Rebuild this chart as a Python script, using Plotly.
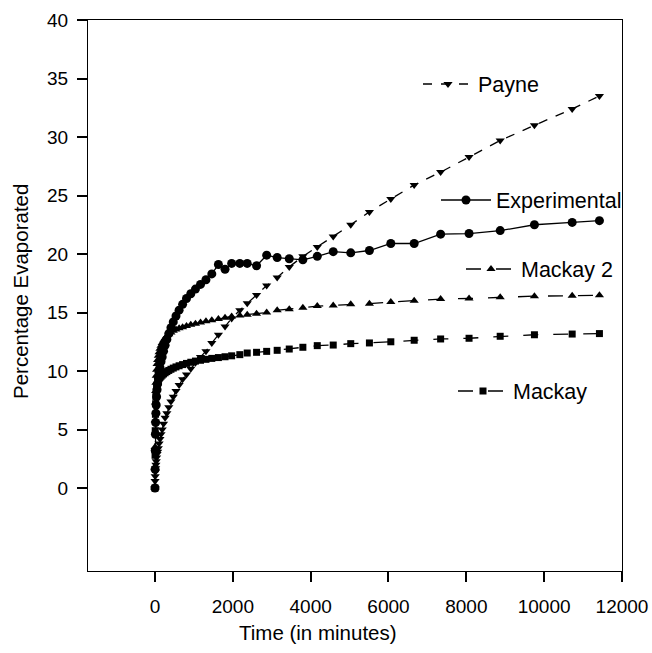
import plotly.graph_objects as go

# time grid (minutes), shared by all series
time_min = [0, 2, 6, 11, 17, 24, 32, 42, 54, 68, 85, 105, 128, 155, 185, 220, 260, 305, 355, 410,
            470, 540, 620, 710, 810, 920, 1040, 1170, 1310, 1460, 1630, 1800, 1970, 2180, 2370,
            2610, 2870, 3140, 3450, 3800, 4170, 4580, 5030, 5510, 6060, 6660, 7340, 8070, 8870,
            9750, 10720, 11420]

experimental = [0, 1.6, 3.2, 4.6, 5.6, 6.4, 7.1, 7.8, 8.4, 8.9, 9.4, 9.9, 10.3, 10.8, 11.2, 11.7,
                12.2, 12.7, 13.2, 13.7, 14.2, 14.7, 15.2, 15.7, 16.2, 16.6, 17.0, 17.4, 17.8, 18.3,
                19.1, 18.7, 19.2, 19.2, 19.2, 19.0, 19.9, 19.7, 19.6, 19.5, 19.8, 20.2, 20.1, 20.3,
                20.9, 20.9, 21.7, 21.75, 22.0, 22.5, 22.7, 22.85]

mackay2 = [0, 3.5, 5.8, 7.3, 8.3, 9.0, 9.6, 10.1, 10.6, 10.95, 11.3, 11.6, 11.9, 12.15, 12.4, 12.6,
           12.8, 13.0, 13.15, 13.3, 13.45, 13.55, 13.65, 13.75, 13.85, 13.95, 14.05, 14.15, 14.25,
           14.35, 14.45, 14.55, 14.65, 14.75, 14.82, 14.9, 15.0, 15.2, 15.27, 15.4, 15.55, 15.6,
           15.7, 15.76, 15.9, 16.0, 16.15, 16.2, 16.3, 16.4, 16.43, 16.47]

mackay = [0, 2.8, 4.9, 6.3, 7.2, 7.8, 8.25, 8.55, 8.8, 9.0, 9.2, 9.35, 9.45, 9.55, 9.65, 9.75,
          9.85, 9.95, 10.05, 10.15, 10.25, 10.35, 10.45, 10.55, 10.65, 10.75, 10.85, 10.92, 11.0,
          11.08, 11.15, 11.22, 11.3, 11.4, 11.54, 11.6, 11.68, 11.77, 11.88, 12.03, 12.17, 12.22,
          12.34, 12.4, 12.5, 12.63, 12.74, 12.8, 12.97, 13.1, 13.16, 13.2]

payne = [0, 0.6, 1.0, 1.4, 1.7, 2.0, 2.3, 2.6, 2.9, 3.1, 3.4, 3.8, 4.2, 4.6, 5.0, 5.5, 6.0, 6.4,
         6.9, 7.4, 7.8, 8.3, 8.8, 9.3, 9.7, 10.2, 10.7, 11.2, 11.7, 12.4, 13.1, 13.8, 14.5, 15.2,
         15.8, 16.5, 17.3, 18.0, 18.9, 19.8, 20.6, 21.5, 22.5, 23.6, 24.7, 25.9, 27.0, 28.3, 29.7,
         31.0, 32.4, 33.5]

x_ticks = [0, 2000, 4000, 6000, 8000, 10000, 12000]
y_ticks = [0, 5, 10, 15, 20, 25, 30, 35, 40]

FONT = "Liberation Sans, Arial, sans-serif"
W, H = 652, 653
L, R, T, B = 88, 30, 20, 82
pw, ph = W - L - R, H - T - B


def px_x(p):
    return (p - L) / pw


def px_y(p):
    return (H - B - p) / ph


fig = go.Figure()

series = [
    ("Payne", payne, "triangle-down", 8, "dash", "legend"),
    ("Experimental", experimental, "circle", 9, "solid", "legend2"),
    ("Mackay 2", mackay2, "triangle-up", 8, "longdash", "legend3"),
    ("Mackay", mackay, "square", 7, "longdash", "legend4"),
]
for name, vals, sym, size, dash, leg in series:
    fig.add_trace(go.Scatter(
        x=time_min, y=vals, name=name, mode="lines+markers",
        line=dict(color="black", width=1.3, dash=dash),
        marker=dict(symbol=sym, size=size, color="black"),
        legend=leg,
    ))

legend_pos = {
    "legend": (418, 84),
    "legend2": (436, 200),
    "legend3": (461, 269),
    "legend4": (453, 391),
}
leg_layout = {}
for k, (lx, ly) in legend_pos.items():
    leg_layout[k] = dict(x=px_x(lx), y=px_y(ly), xanchor="left", yanchor="middle",
                         bgcolor="rgba(0,0,0,0)", borderwidth=0, itemwidth=50,
                         font=dict(family=FONT, size=21.5, color="black"))

fig.update_layout(
    width=W, height=H,
    margin=dict(l=L, r=R, t=T, b=B, autoexpand=False),
    paper_bgcolor="white", plot_bgcolor="white",
    font=dict(family=FONT, color="black"),
    showlegend=True,
    **leg_layout,
)
fig.update_xaxes(
    range=[-1721, 12000], tickvals=x_ticks, ticktext=[str(v) for v in x_ticks],
    showgrid=False, zeroline=False, showline=True, linecolor="black", linewidth=1.2,
    mirror=True, ticks="outside", ticklen=10, tickwidth=1.5, tickcolor="black",
    tickfont=dict(family=FONT, size=19, color="black"), ticklabelstandoff=8,
    automargin=False,
)
fig.update_yaxes(
    range=[-7.09, 40], tickvals=y_ticks, ticktext=[str(v) for v in y_ticks],
    showgrid=False, zeroline=False, showline=True, linecolor="black", linewidth=1.2,
    mirror=True, ticks="outside", ticklen=10, tickwidth=1.5, tickcolor="black",
    tickfont=dict(family=FONT, size=19, color="black"), ticklabelstandoff=5,
    automargin=False,
)
fig.add_annotation(text="Time (in minutes)", xref="paper", yref="paper",
                   x=px_x(318), y=px_y(632), xanchor="center", yanchor="middle",
                   showarrow=False, font=dict(family=FONT, size=20.5, color="black"))
fig.add_annotation(text="Percentage Evaporated", xref="paper", yref="paper",
                   x=px_x(20), y=px_y(292), xanchor="center", yanchor="middle",
                   showarrow=False, textangle=-90,
                   font=dict(family=FONT, size=20.5, color="black"))

fig.write_html("out.html", config={"displayModeBar": False},
               post_script="document.body.style.margin='0px';")
